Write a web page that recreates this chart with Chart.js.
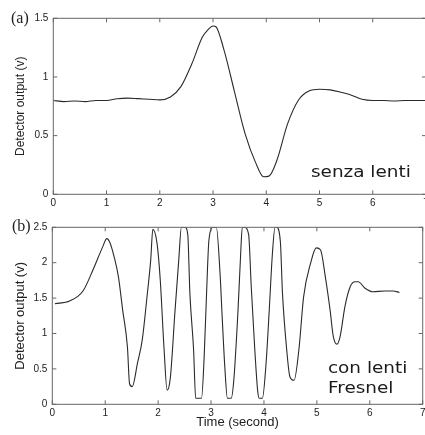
<!DOCTYPE html>
<html>
<head>
<meta charset="utf-8">
<script src="https://cdn.jsdelivr.net/npm/chart.js@4"></script>
<style>
  html, body { margin: 0; padding: 0; background: #fff; overflow: hidden; width: 425px; height: 435px; }
  .box { position: absolute; left: 0; }
  .lbl { position: absolute; color: #222; white-space: nowrap; }
  .panel { font-family: "Liberation Serif", serif; font-size: 16px; line-height: 16px; }
  .note { font-family: "DejaVu Sans", sans-serif; font-size: 16px; line-height: 20px; color: #1a1a1a; transform-origin: 0 0; transform: scaleX(1.15); }
</style>
</head>
<body>
<div class="box" style="top:0"><canvas id="chartA" width="432" height="210"></canvas></div>
<div class="box" style="top:210px"><canvas id="chartB" width="432" height="225"></canvas></div>
<div class="lbl panel" style="left:11px; top:10px">(a)</div>
<div class="lbl panel" style="left:12px; top:218px">(b)</div>
<div class="lbl note" style="left:311px; top:162px">senza lenti</div>
<div class="lbl note" style="left:328px; top:358px">con lenti<br>Fresnel</div>
<script>
// tempi (s) e uscite del rivelatore (V)
const timeA = [0, 0.2, 0.4, 0.6, 0.8, 1.0, 1.2, 1.4, 1.6, 1.8, 2.0, 2.2, 2.4, 2.6, 2.8, 2.9, 3.0, 3.05, 3.2, 3.4, 3.6, 3.8, 3.95, 4.05, 4.2, 4.4, 4.6, 4.8, 5.0, 5.2, 5.4, 5.6, 5.8, 6.0, 6.2, 6.4, 6.6, 6.8, 7.0];
const outA  = [0.80, 0.79, 0.795, 0.79, 0.80, 0.80, 0.815, 0.82, 0.815, 0.81, 0.805, 0.83, 0.92, 1.11, 1.34, 1.40, 1.435, 1.43, 1.24, 0.88, 0.52, 0.27, 0.15, 0.155, 0.29, 0.6, 0.8, 0.88, 0.895, 0.89, 0.87, 0.845, 0.81, 0.80, 0.80, 0.795, 0.80, 0.80, 0.80];

const timeB = [0.05, 0.33, 0.58, 0.77, 0.95, 1.03, 1.08, 1.17, 1.25, 1.33, 1.42, 1.46, 1.51, 1.61, 1.70, 1.79, 1.86, 1.90, 1.98, 2.04, 2.11, 2.17, 2.23, 2.32, 2.39, 2.44, 2.51, 2.56, 2.60, 2.67, 2.71, 2.82, 2.87, 2.92, 2.96, 3.04, 3.10, 3.17, 3.21, 3.26, 3.31, 3.38, 3.43, 3.51, 3.56, 3.59, 3.63, 3.71, 3.76, 3.82, 3.88, 3.91, 3.97, 4.04, 4.10, 4.16, 4.21, 4.24, 4.31, 4.35, 4.43, 4.49, 4.57, 4.66, 4.75, 4.88, 4.99, 5.07, 5.16, 5.25, 5.31, 5.38, 5.44, 5.53, 5.63, 5.72, 5.78, 5.91, 6.06, 6.28, 6.44, 6.56];
const outB  = [1.42, 1.46, 1.60, 1.90, 2.22, 2.34, 2.30, 2.08, 1.80, 1.33, 0.81, 0.29, 0.25, 0.58, 0.91, 1.52, 2.04, 2.47, 2.27, 1.76, 0.81, 0.20, 0.37, 1.33, 2.04, 2.50, 2.50, 2.40, 1.57, 0.77, 0.085, 0.085, 0.67, 1.66, 2.32, 2.50, 2.50, 1.85, 1.24, 0.53, 0.085, 0.085, 0.34, 1.33, 2.13, 2.50, 2.50, 2.40, 1.66, 0.86, 0.20, 0.085, 0.085, 0.58, 1.33, 2.13, 2.50, 2.50, 2.30, 1.57, 0.77, 0.39, 0.34, 0.77, 1.52, 1.99, 2.21, 2.18, 1.80, 1.33, 0.96, 0.85, 0.96, 1.38, 1.66, 1.73, 1.73, 1.64, 1.59, 1.60, 1.60, 1.58];

const xTicks  = [0, 1, 2, 3, 4, 5, 6, 7];
const yTicksA = [0, 0.5, 1, 1.5];
const yTicksB = [0, 0.5, 1, 1.5, 2, 2.5];
const yTitle = 'Detector output (v)';
const xTitle = 'Time (second)';

// cornice del grafico e tacche verso l'interno, su tutti e quattro i lati
const framePlugin = {
    id: 'frame',
    afterDraw(chart) {
        const ctx = chart.ctx;
        const a = chart.chartArea;
        const xs = chart.scales.x;
        const ys = chart.scales.y;
        const tl = 4;
        ctx.save();
        ctx.strokeStyle = '#666';
        ctx.lineWidth = 1;
        ctx.strokeRect(a.left, a.top, a.right - a.left, a.bottom - a.top);
        ctx.beginPath();
        xs.ticks.forEach(t => {
            const px = xs.getPixelForValue(t.value);
            ctx.moveTo(px, a.bottom); ctx.lineTo(px, a.bottom - tl);
            ctx.moveTo(px, a.top); ctx.lineTo(px, a.top + tl);
        });
        ys.ticks.forEach(t => {
            const py = ys.getPixelForValue(t.value);
            ctx.moveTo(a.left, py); ctx.lineTo(a.left + tl, py);
            ctx.moveTo(a.right, py); ctx.lineTo(a.right - tl, py);
        });
        ctx.stroke();
        ctx.restore();
    }
};

function makeChart(id, times, outs, yTicks, yMax, opts) {
    const pts = times.map((t, i) => ({ x: t, y: outs[i] }));
    return new Chart(document.getElementById(id), {
        type: 'line',
        data: {
            datasets: [{
                data: pts,
                borderColor: '#2a2a2a',
                borderWidth: 1.1,
                pointRadius: 0,
                tension: opts.tension,
                cubicInterpolationMode: opts.mode,
                fill: false
            }]
        },
        options: {
            responsive: false,
            animation: false,
            layout: { padding: opts.padding },
            plugins: { legend: { display: false }, tooltip: { enabled: false } },
            scales: {
                x: {
                    type: 'linear',
                    min: 0, max: 7,
                    afterBuildTicks: s => { s.ticks = xTicks.map(v => ({ value: v })); },
                    afterFit: s => { s.height = opts.xHeight; },
                    grid: { display: false, drawTicks: false },
                    border: { display: false },
                    ticks: { padding: 3, color: '#222', font: { family: 'Liberation Sans', size: 10 }, maxRotation: 0, callback: v => String(v) },
                    title: {
                        display: opts.showX,
                        text: xTitle,
                        color: '#222',
                        font: { family: 'Liberation Sans', size: 13 },
                        padding: { top: 0, bottom: 5 }
                    }
                },
                y: {
                    min: 0, max: yMax,
                    afterBuildTicks: s => { s.ticks = yTicks.map(v => ({ value: v })); },
                    afterFit: s => { s.width = opts.yWidth; },
                    grid: { display: false, drawTicks: false },
                    border: { display: false },
                    ticks: { padding: 5, color: '#222', font: { family: 'Liberation Sans', size: 10 }, callback: v => String(v) },
                    title: {
                        display: true,
                        text: yTitle,
                        color: '#222',
                        font: { family: 'Liberation Sans', size: opts.ySize },
                        padding: { top: 13, bottom: 0 }
                    }
                }
            }
        },
        plugins: [framePlugin]
    });
}

makeChart('chartA', timeA, outA, yTicksA, 1.5, {
    padding: { left: 0, top: 18.3, right: 6, bottom: 0 },
    xHeight: 15.7, yWidth: 53.3, showX: false, ySize: 12,
    tension: 0.4, mode: 'monotone'
});
makeChart('chartB', timeB, outB, yTicksB, 2.5, {
    padding: { left: 0, top: 17.3, right: 9.3, bottom: 0 },
    xHeight: 30.7, yWidth: 52.3, showX: true, ySize: 13,
    tension: 0.4, mode: 'monotone'
});
</script>
</body>
</html>
